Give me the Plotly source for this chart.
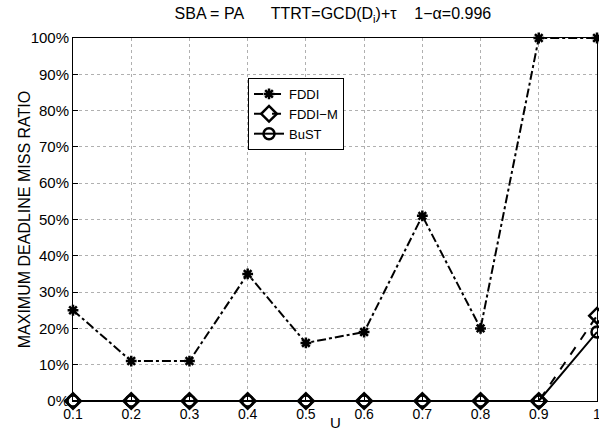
import plotly.graph_objects as go

u = [0.1, 0.2, 0.3, 0.4, 0.5, 0.6, 0.7, 0.8, 0.9, 1.0]
fddi = [25, 11, 11, 35, 16, 19, 51, 20, 100, 100]
fddi_m = [0, 0, 0, 0, 0, 0, 0, 0, 0, 23.5]
bust = [0, 0, 0, 0, 0, 0, 0, 0, 0, 19]
xticks = [0.1, 0.2, 0.3, 0.4, 0.5, 0.6, 0.7, 0.8, 0.9, 1.0]
xlabels = ["0.1", "0.2", "0.3", "0.4", "0.5", "0.6", "0.7", "0.8", "0.9", "1"]
yticks = list(range(0, 101, 10))
ylabels = [f"{v}%" for v in yticks]
x_title = "U"
y_title = "MAXIMUM DEADLINE MISS RATIO"

font = "Liberation Sans, Arial, sans-serif"
fig = go.Figure()
fig.add_trace(go.Scatter(x=u, y=fddi, name="FDDI", mode="lines+markers",
                         line=dict(color="black", width=2, dash="dashdot"),
                         marker=dict(symbol="asterisk-open", size=9, line=dict(color="black", width=2.5)),
                         cliponaxis=False))
fig.add_trace(go.Scatter(x=u, y=fddi_m, name="FDDI−M", mode="lines+markers",
                         line=dict(color="black", width=2, dash="dash"),
                         marker=dict(symbol="diamond-open", size=12, line=dict(color="black", width=2.5)),
                         cliponaxis=False))
fig.add_trace(go.Scatter(x=u, y=bust, name="BuST", mode="lines+markers",
                         line=dict(color="black", width=2),
                         marker=dict(symbol="circle-open", size=11, line=dict(color="black", width=2.5)),
                         cliponaxis=False))

sp = "\u00a0"
title_text = "SBA = PA" + sp * 6 + "TTRT=GCD(D<sub>i</sub>)+τ" + sp * 4 + "1−α=0.996"

fig.update_layout(
    width=599, height=429,
    margin=dict(l=73, r=2, t=38, b=28),
    plot_bgcolor="white", paper_bgcolor="white",
    font=dict(family=font, size=14, color="black"),
    title=dict(text=title_text,
               x=0.496, xref="paper", xanchor="center", y=0.968, yanchor="middle",
               font=dict(size=16)),
    legend=dict(x=0.334, y=0.89, xanchor="left", yanchor="top",
                bordercolor="black", borderwidth=1, bgcolor="white",
                font=dict(size=13), tracegroupgap=0, itemwidth=30),
    xaxis=dict(range=[0.1, 1.0], tickvals=xticks, ticktext=xlabels,
               showline=True, linecolor="black", linewidth=1, mirror=True,
               ticks="inside", ticklen=5, tickcolor="black",
               ticklabeloverflow="allow", automargin=False,
               tickfont=dict(size=14),
               showgrid=True, gridcolor="#b0b0b0", griddash="dot", gridwidth=1,
               zeroline=False),
    yaxis=dict(range=[0, 100], tickvals=yticks, ticktext=ylabels,
               showline=True, linecolor="black", linewidth=1, mirror=True,
               ticks="inside", ticklen=5, tickcolor="black",
               ticklabeloverflow="allow", automargin=False,
               tickfont=dict(size=15),
               showgrid=True, gridcolor="#b0b0b0", griddash="dot", gridwidth=1,
               zeroline=False),
    annotations=[
        dict(text=x_title, xref="paper", yref="paper", x=0.5, y=-0.03,
             xanchor="center", yanchor="top", showarrow=False, font=dict(size=15)),
        dict(text=y_title, xref="paper", yref="paper", x=-0.092, y=0.5,
             xanchor="center", yanchor="middle", textangle=-90, showarrow=False,
             font=dict(size=16)),
    ],
)
fig.write_html("out.html", config={"displayModeBar": False},
               post_script="document.body.style.margin='0';")
